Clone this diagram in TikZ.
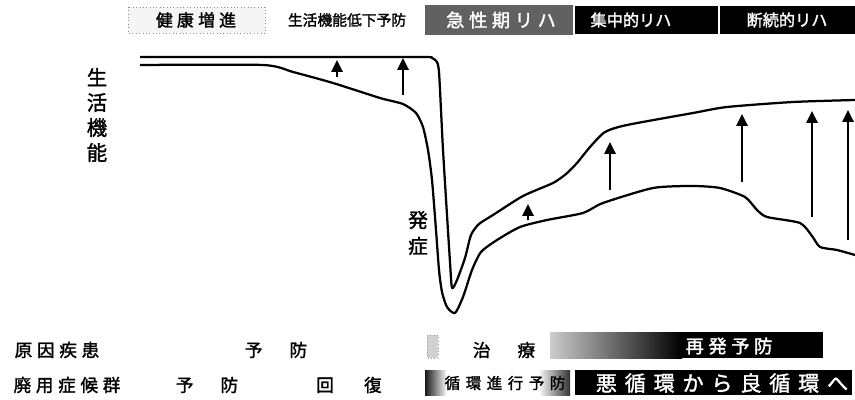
\documentclass[tikz,border=0pt]{standalone}
\usepackage{fontspec}
\setmainfont{Noto Sans CJK JP}[FakeBold=1.6]
\usetikzlibrary{arrows.meta}
\tikzstyle{curve}=[line width=1.6pt, line join=round]
\tikzstyle{lift}=[draw, line width=1.7pt, -{Triangle[length=8.5pt,width=8pt]}]
\tikzstyle{label}=[inner sep=0pt, font=\fontsize{12}{14}\selectfont]
\tikzstyle{wide}=[inner sep=0pt, font=\fontsize{12.5}{14}\selectfont\addfontfeature{LetterSpace=27}]
\tikzstyle{boxtext}=[inner sep=0pt, text=white]

\begin{document}
\begin{tikzpicture}[x=0.025cm, y=-0.025cm]

    \useasboundingbox (0,0) rectangle (855,400);

    % top row
    \draw[black!45, dotted, fill=black!4] (128,7) rectangle (265,33);
    \node[wide, font=\fontsize{12}{14}\selectfont\addfontfeature{LetterSpace=25}] (kenko) at (196,20) {健康増進};
    \node[label, font=\fontsize{10.5}{12}\selectfont] (teika) at (347,20) {生活機能低下予防};
    \fill[black!62] (425,5) rectangle (573,35);
    \node[boxtext, font=\fontsize{13}{14}\selectfont\addfontfeature{LetterSpace=25}] (kyusei) at (501,20) {急性期リハ};
    \fill[black] (575,6) rectangle (718,34);
    \node[boxtext, font=\fontsize{11.5}{13}\selectfont] (shuchu) at (631,20) {集中的リハ};
    \fill[black] (720,6) rectangle (855,34);
    \node[boxtext, font=\fontsize{11.5}{13}\selectfont] (danzoku) at (787,20) {断続的リハ};

    % axis label and onset
    \node[label, align=center, font=\fontsize{14.5}{17.8}\selectfont] (kino) at (97,115) {生\\活\\機\\能};
    \node[label, align=center, font=\fontsize{14}{18.5}\selectfont] (hassho) at (418,233) {発\\症};

    % curves
    \draw[curve] plot[smooth, tension=0.4] coordinates {(140,57) (300,57) (422,57) (432,58) (437,62) (439,72) (441,110) (443,150) (447,215) (450,262) (452,288) (457,280) (465,258) (471,235) (479,224) (493,215) (523,196) (553,183) (566,174) (577,163) (590,147) (605,132) (627,125) (693,113) (727,107) (793,102) (855,100)};
    \draw[curve] plot[smooth, tension=0.4] coordinates {(140,65) (263,65) (293,72) (333,83) (380,98) (403,104) (416,113) (423,127) (428,150) (432,180) (436,230) (439,270) (442,292) (447,307) (455,313) (463,297) (472,270) (481,252) (497,240) (520,227) (547,220) (583,213) (603,203) (653,188) (693,186) (720,188) (745,197) (757,210) (767,217) (800,223) (812,236) (820,247) (837,250) (855,255)};

    % arrows
    \foreach \x/\ylo/\yhi/\name in {337/77/60/a, 403/95/58/b, 528/220/204/c, 610/190/142/d, 742/182/114/e, 812/217/111/f, 848/240/110/g}
    {
        \coordinate (lo\name) at (\x,\ylo);
        \coordinate (hi\name) at (\x,\yhi);
        \path[lift] (lo\name) -- (hi\name);
    }

    % bottom rows
    \node[wide] (genin) at (57,350) {原因疾患};
    \node[wide] (yobo1) at (276,350) {予　防};
    \draw[black!40, dotted, fill=black!18] (427,335) rectangle (438,358);
    \node[wide] (chiryo) at (504,350) {治　療};
    \shade[left color=black!20, right color=black] (550,332) rectangle (682,358);
    \fill[black] (681,332) rectangle (823,358);
    \node[boxtext, font=\fontsize{13}{14}\selectfont\addfontfeature{LetterSpace=25}] (saihatsu) at (729,346) {再発予防};

    \node[wide] (haiyo) at (67,385) {廃用症候群};
    \node[wide] (yobo2) at (207,385) {予　防};
    \node[wide, font=\fontsize{12.5}{14}\selectfont\addfontfeature{LetterSpace=36}] (kaifuku) at (349,385) {回　復};
    \shade[left color=black!90, right color=black!5] (425,370) rectangle (446,395);
    \shade[left color=black!5, right color=black!80] (540,370) rectangle (570,395);
    \node[inner sep=0pt, font=\fontsize{11}{13}\selectfont\addfontfeature{LetterSpace=36}] (junkan) at (505,383) {循環進行予防};
    \fill[black] (575,370) rectangle (852,395);
    \node[boxtext, font=\fontsize{15}{17}\selectfont\addfontfeature{LetterSpace=37}] (akujunkan) at (722,383) {悪循環から良循環へ};

\end{tikzpicture}
\end{document}
